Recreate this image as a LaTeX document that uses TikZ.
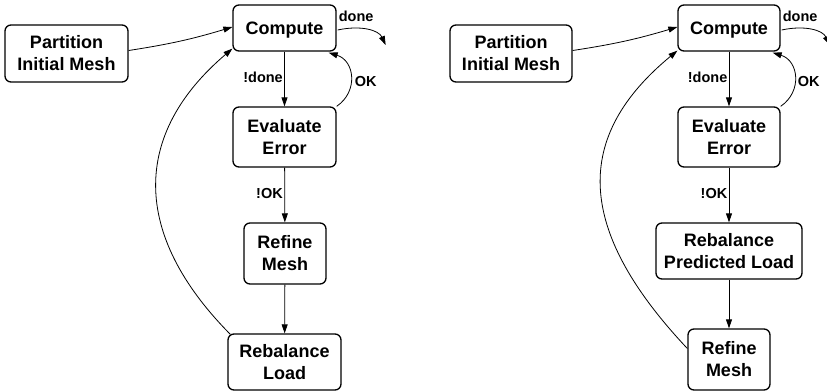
\documentclass[tikz,border=0pt]{standalone}
\usepackage{fontspec}
\setmainfont{Liberation Sans}
\usetikzlibrary{arrows.meta,calc}
\tikzset{
  box/.style={draw, line width=1.3pt, rounded corners=6pt, inner sep=0pt, align=center,
    font=\fontsize{18}{22}\selectfont\bfseries},
  arr/.style={line width=0.8pt, -{Triangle[length=9pt,width=6pt]}},
  lbl/.style={inner sep=0pt, font=\fontsize{14.5}{17}\selectfont\bfseries},
}
\begin{document}
\begin{tikzpicture}[x=1pt,y=-1pt]
\clip (0,0) rectangle (827,391);
\useasboundingbox (0,0) rectangle (827,391);
% left diagram
\node[box, minimum width=123pt, minimum height=57pt] (p1) at (66.5,53.5) {Partition\\Initial Mesh};
\node[box, minimum width=103pt, minimum height=46pt, text depth=0pt] (c1) at (284.5,28) {Compute};
\node[box, minimum width=103pt, minimum height=60pt] (e1) at (284.5,137) {Evaluate\\Error};
\node[box, minimum width=82pt, minimum height=61pt] (r1) at (285,253.5) {Refine\\Mesh};
\node[box, minimum width=113pt, minimum height=56pt] (b1) at (284.5,362) {Rebalance\\Load};
\coordinate (d1) at ($(c1.east)+(49,17)$);
\draw[arr] ($(p1.east)+(0,-3)$) to[bend right=4] ($(c1.west)+(0,-1)$);
\draw[arr] (c1) -- (e1);
\draw[arr] (e1) -- (r1);
\draw[arr] (r1) -- (b1);
\draw[arr] (e1.north east) .. controls ($(e1.north east)+(22,-15)$) and ($(c1.south east)+(18,9)$) .. ($(c1.south east)+(-8,1)$);
\draw[arr] ($(c1.east)+(1,2)$) .. controls ($(c1.east)+(24,-3)$) and ($(c1.east)+(42,2)$) .. (d1);
\draw[arr] ($(b1.north west)+(3,1)$) .. controls (131,234) and (132,134) .. ($(c1.south west)+(0,-3)$);
\node[lbl, anchor=west] at ($(c1.east)+(2,-12)$) {done};
\node[lbl, anchor=east] at ($(c1.south)+(-1.5,26)$) {!done};
\node[lbl, anchor=west] at ($(c1.east)+(18,54)$) {OK};
\node[lbl, anchor=east] at ($(e1.south)+(-1.5,26)$) {!OK};
% right diagram
\node[box, minimum width=122pt, minimum height=57pt] (p2) at (511,53.5) {Partition\\Initial Mesh};
\node[box, minimum width=102pt, minimum height=46pt, text depth=0pt] (c2) at (729,28) {Compute};
\node[box, minimum width=102pt, minimum height=60pt] (e2) at (729,137) {Evaluate\\Error};
\node[box, minimum width=146pt, minimum height=56pt] (b2) at (729,251) {Rebalance\\Predicted Load};
\node[box, minimum width=82pt, minimum height=61pt] (r2) at (729,359.5) {Refine\\Mesh};
\coordinate (d2) at ($(c2.east)+(49,17)$);
\draw[arr] ($(p2.east)+(0,-3)$) to[bend right=4] ($(c2.west)+(0,-1)$);
\draw[arr] (c2) -- (e2);
\draw[arr] (e2) -- (b2);
\draw[arr] (b2) -- (r2);
\draw[arr] (e2.north east) .. controls ($(e2.north east)+(22,-15)$) and ($(c2.south east)+(18,9)$) .. ($(c2.south east)+(-8,1)$);
\draw[arr] ($(c2.east)+(1,2)$) .. controls ($(c2.east)+(24,-3)$) and ($(c2.east)+(42,2)$) .. (d2);
\draw[arr] ($(r2.west)+(0,-11)$) .. controls (574,228) and (574,136) .. ($(c2.south west)+(0,-1)$);
\node[lbl, anchor=west] at ($(c2.east)+(2,-12)$) {done};
\node[lbl, anchor=east] at ($(c2.south)+(-1.5,26)$) {!done};
\node[lbl, anchor=west] at ($(c2.east)+(17,54)$) {OK};
\node[lbl, anchor=east] at ($(e2.south)+(-1.5,26)$) {!OK};
\end{tikzpicture}
\end{document}
